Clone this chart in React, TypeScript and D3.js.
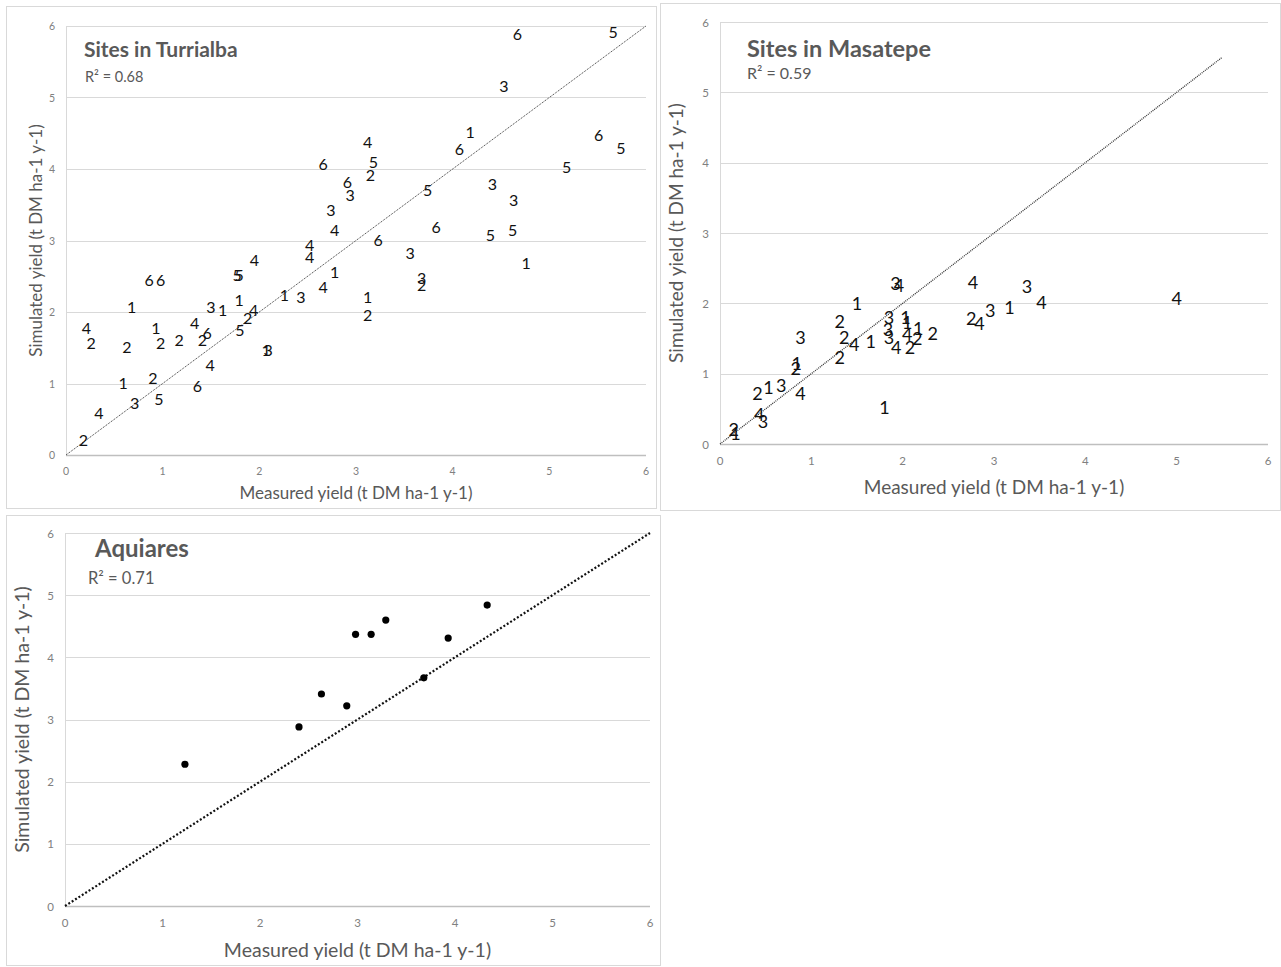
import React from "react";
import * as d3 from "d3";

// Turrialba: [measured, simulated] per site label
const turrialba1 = [[0.68, 2.07], [0.93, 1.79], [0.59, 1.01], [1.62, 2.04], [1.79, 2.17], [2.07, 1.47], [2.26, 2.24], [2.78, 2.57], [3.12, 2.21], [4.18, 4.52], [4.76, 2.69]];
const turrialba2 = [[0.26, 1.57], [0.63, 1.52], [0.98, 1.57], [1.17, 1.61], [1.41, 1.62], [1.88, 1.93], [0.9, 1.09], [0.18, 0.21], [3.15, 3.93], [3.12, 1.97], [3.68, 2.38]];
const turrialba3 = [[0.71, 0.73], [2.09, 1.47], [1.5, 2.08], [2.43, 2.21], [2.74, 3.44], [2.94, 3.65], [3.56, 2.83], [3.68, 2.48], [4.41, 3.8], [4.63, 3.57], [4.53, 5.17]];
const turrialba4 = [[0.21, 1.79], [1.33, 1.85], [1.94, 2.03], [1.95, 2.74], [1.49, 1.27], [0.34, 0.6], [2.52, 2.77], [2.52, 2.94], [2.66, 2.35], [2.78, 3.15], [3.12, 4.38]];
const turrialba5 = [[1.77, 2.52], [1.79, 2.52], [1.8, 1.76], [0.96, 0.79], [3.18, 4.1], [3.74, 3.71], [4.39, 3.09], [4.62, 3.15], [5.18, 4.03], [5.74, 4.3], [5.66, 5.92]];
const turrialba6 = [[0.86, 2.45], [0.98, 2.45], [1.46, 1.72], [1.36, 0.97], [2.66, 4.08], [2.91, 3.82], [3.23, 3.01], [3.83, 3.19], [4.07, 4.28], [5.51, 4.48], [4.67, 5.9]];

// Masatepe
const masatepe1 = [[0.17, 0.16], [0.53, 0.81], [0.84, 1.15], [1.5, 2.01], [1.65, 1.47], [2.03, 1.81], [2.05, 1.74], [2.17, 1.65], [1.8, 0.53], [3.17, 1.95]];
const masatepe2 = [[0.15, 0.22], [0.41, 0.73], [0.83, 1.08], [1.31, 1.75], [1.36, 1.52], [1.31, 1.24], [2.16, 1.51], [2.08, 1.38], [2.33, 1.58], [2.75, 1.79]];
const masatepe3 = [[0.47, 0.33], [0.67, 0.84], [0.88, 1.52], [1.85, 1.81], [1.84, 1.64], [1.85, 1.52], [1.92, 2.29], [2.96, 1.91], [3.36, 2.25]];
const masatepe4 = [[0.43, 0.43], [0.88, 0.73], [1.47, 1.42], [1.96, 2.26], [1.93, 1.38], [2.05, 1.56], [2.77, 2.3], [2.84, 1.72], [3.52, 2.02], [5.0, 2.08]];

// Aquiares
const aquiaresMeasured = [1.23, 2.4, 2.63, 2.89, 2.98, 3.14, 3.29, 3.68, 3.93, 4.33];
const aquiaresSimulated = [2.28, 2.88, 3.41, 3.22, 4.37, 4.37, 4.6, 3.67, 4.31, 4.84];

const tickValues = [0, 1, 2, 3, 4, 5, 6];
const xTitle = "Measured yield (t DM ha-1 y-1)";
const yTitle = "Simulated yield (t DM ha-1 y-1)";

const font = "Lato, 'Open Sans', sans-serif";
const grey = "#595959";

type Panel = {
  frame: number[]; // x, y, w, h
  left: number; right: number; top: number; bottom: number;
  title: string; titleX: number; titleY: number; titleSize: number;
  r2: string; r2X: number; r2Y: number; r2Size: number;
  tickSize: number; axisTitleSize: number;
  xTitleY: number; yTitleX: number;
  diagEnd: number; diagWidth: number; diagDash: string; diagColor: string;
  labelSize: number;
  series?: number[][][];
  dots?: number[][];
};

const panels: Panel[] = [
  {
    frame: [6, 6, 650, 502], left: 66, right: 646, top: 26, bottom: 455,
    title: "Sites in Turrialba", titleX: 84, titleY: 57, titleSize: 21,
    r2: "R² = 0.68", r2X: 85, r2Y: 82, r2Size: 14.5,
    tickSize: 10.5, axisTitleSize: 17, xTitleY: 499, yTitleX: 42,
    diagEnd: 6, diagWidth: 1, diagDash: "1 1", diagColor: "#333",
    labelSize: 16,
    series: [turrialba1, turrialba2, turrialba3, turrialba4, turrialba5, turrialba6],
  },
  {
    frame: [660, 3, 620, 507], left: 720, right: 1268, top: 22, bottom: 444,
    title: "Sites in Masatepe", titleX: 747, titleY: 57, titleSize: 23.5,
    r2: "R² = 0.59", r2X: 747, r2Y: 79, r2Size: 16,
    tickSize: 11.5, axisTitleSize: 19, xTitleY: 494, yTitleX: 683,
    diagEnd: 5.5, diagWidth: 1.3, diagDash: "1 1", diagColor: "#333",
    labelSize: 18,
    series: [masatepe1, masatepe2, masatepe3, masatepe4],
  },
  {
    frame: [6, 515, 654, 450], left: 65, right: 650, top: 533, bottom: 906,
    title: "Aquiares", titleX: 95, titleY: 557, titleSize: 24,
    r2: "R² = 0.71", r2X: 88, r2Y: 584, r2Size: 16.5,
    tickSize: 11.5, axisTitleSize: 19.5, xTitleY: 957, yTitleX: 29,
    diagEnd: 6, diagWidth: 2.2, diagDash: "2 2", diagColor: "#111",
    labelSize: 17,
    dots: aquiaresMeasured.map((m, i) => [m, aquiaresSimulated[i]]),
  },
];

const ChartPanel = ({ p }: { p: Panel }) => {
  const x = d3.scaleLinear().domain([0, 6]).range([p.left, p.right]);
  const y = d3.scaleLinear().domain([0, 6]).range([p.bottom, p.top]);
  const diag = d3.line<number>().x((d) => x(d)).y((d) => y(d))([0, p.diagEnd]) || "";
  const [fx, fy, fw, fh] = p.frame;
  return (
    <g>
      <rect x={fx + 0.5} y={fy + 0.5} width={fw} height={fh} fill="#fff" stroke="#d9d9d9" strokeWidth={1} />
      {tickValues.map((t) => (
        <line key={"g" + t} x1={p.left} x2={p.right} y1={Math.round(y(t)) + 0.5} y2={Math.round(y(t)) + 0.5}
          stroke={t === 0 ? "#bfbfbf" : "#d9d9d9"} strokeWidth={t === 0 ? 1.5 : 1} />
      ))}
      <line x1={p.left + 0.5} x2={p.left + 0.5} y1={p.top} y2={p.bottom} stroke="#d9d9d9" />
      {tickValues.map((t) => (
        <text key={"y" + t} x={p.left - 11} y={y(t)} textAnchor="end" dominantBaseline="central"
          fontSize={p.tickSize} fill="#808080" fontFamily={font}>{t}</text>
      ))}
      {tickValues.map((t) => (
        <text key={"x" + t} x={x(t)} y={p.bottom + 16} textAnchor="middle" dominantBaseline="central"
          fontSize={p.tickSize} fill="#808080" fontFamily={font}>{t}</text>
      ))}
      <text x={(p.left + p.right) / 2} y={p.xTitleY} textAnchor="middle" fontSize={p.axisTitleSize}
        fill={grey} fontFamily={font}>{xTitle}</text>
      <text transform={`translate(${p.yTitleX},${(p.top + p.bottom) / 2}) rotate(-90)`} textAnchor="middle"
        fontSize={p.axisTitleSize} fill={grey} fontFamily={font}>{yTitle}</text>
      <text x={p.titleX} y={p.titleY} fontSize={p.titleSize} fontWeight="bold" fill={grey} fontFamily={font}>{p.title}</text>
      <text x={p.r2X} y={p.r2Y} fontSize={p.r2Size} fill={grey} fontFamily={font}>{p.r2}</text>
      <path d={diag} fill="none" stroke={p.diagColor} strokeWidth={p.diagWidth} strokeDasharray={p.diagDash} />
      {p.series && p.series.map((s, si) =>
        s.map((d, i) => (
          <text key={si + "-" + i} x={x(d[0])} y={y(d[1])} textAnchor="middle" dominantBaseline="central"
            fontSize={p.labelSize} fill="#111" fontFamily={font}>{si + 1}</text>
        ))
      )}
      {p.dots && p.dots.map((d, i) => (
        <circle key={i} cx={x(d[0])} cy={y(d[1])} r={3.6} fill="#000" />
      ))}
    </g>
  );
};

export default function App() {
  return (
    <svg width={1281} height={967} style={{ position: "absolute", left: 0, top: 0, background: "#fff" }}>
      <rect width={1281} height={967} fill="#fff" />
      {panels.map((p, i) => <ChartPanel key={i} p={p} />)}
    </svg>
  );
}
